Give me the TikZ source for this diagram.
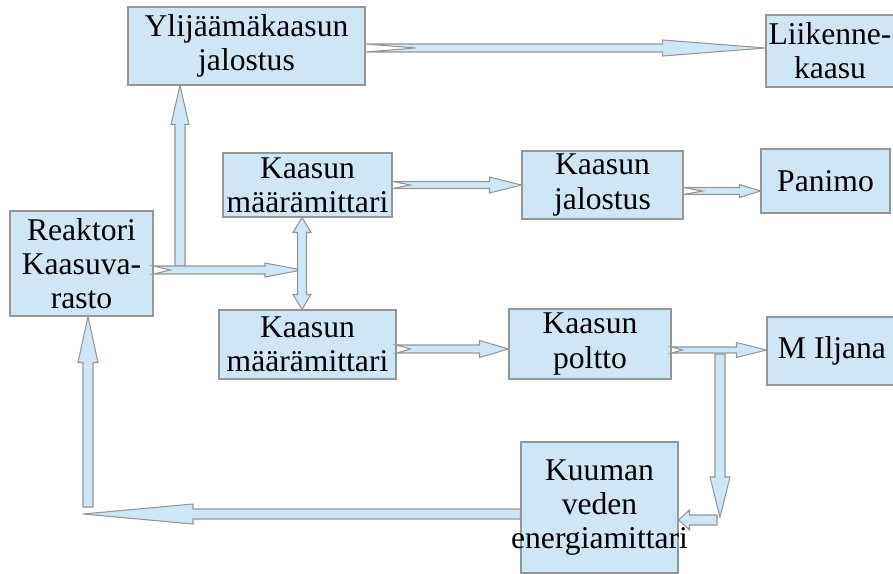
\documentclass[tikz,border=0pt]{standalone}
\usepackage{fontspec}
\setmainfont{Liberation Serif}
\usepackage{xcolor}
\usetikzlibrary{calc}

\definecolor{boxblue}{RGB}{207,231,245}
\definecolor{edgegray}{RGB}{150,150,150}

% block arrow: [notch] {tail} {tip} {shaft half width} {head length} {head half width}, in px
\newcommand{\blockarrow}[6][0]{%
  \coordinate (ba) at #2;
  \coordinate (bb) at #3;
  \coordinate (bh) at ($(bb)!#5*0.02cm!(ba)$);
  \draw[flow] ($(ba)!#4*0.02cm!90:(bb)$) -- ($(bh)!#4*0.02cm!90:(bb)$)
    -- ($(bh)!#6*0.02cm!90:(bb)$) -- (bb) -- ($(bh)!#6*0.02cm!-90:(bb)$)
    -- ($(bh)!#4*0.02cm!-90:(bb)$) -- ($(ba)!#4*0.02cm!-90:(bb)$)
    -- ($(ba)!#1*0.02cm!(bb)$) -- cycle;
}
% two-headed block arrow: {end} {end} {shaft half width} {head length} {head half width}
\newcommand{\twinarrow}[5]{%
  \coordinate (ta) at #1;
  \coordinate (tb) at #2;
  \coordinate (tha) at ($(ta)!#4*0.02cm!(tb)$);
  \coordinate (thb) at ($(tb)!#4*0.02cm!(ta)$);
  \draw[flow] (ta) -- ($(tha)!#5*0.02cm!90:(tb)$) -- ($(tha)!#3*0.02cm!90:(tb)$)
    -- ($(thb)!#3*0.02cm!-90:(ta)$) -- ($(thb)!#5*0.02cm!-90:(ta)$) -- (tb)
    -- ($(thb)!#5*0.02cm!90:(ta)$) -- ($(thb)!#3*0.02cm!90:(ta)$)
    -- ($(tha)!#3*0.02cm!-90:(tb)$) -- ($(tha)!#5*0.02cm!-90:(tb)$) -- cycle;
}

\begin{document}
\begin{tikzpicture}[x=0.02cm, y=-0.02cm,
    stage/.style={draw=edgegray, fill=boxblue, line width=0.6pt, align=center,
      inner sep=0pt, font=\fontsize{18}{19.5}\selectfont},
    flow/.style={draw=edgegray, fill=boxblue, line width=0.6pt, line join=miter}]
    \useasboundingbox (0,0) rectangle (893,574);

    % Boxes
    \node[stage, minimum width=4.74cm, minimum height=1.56cm] (ylij) at (246.5,46) {Ylijäämäkaasun\\jalostus};
    \node[stage, minimum width=2.56cm, minimum height=1.44cm] (liik) at (830,51) {Liikenne-\\kaasu};
    \node[stage, minimum width=3.38cm, minimum height=1.28cm] (mm1) at (307.5,185) {Kaasun\\määrämittari};
    \node[stage, minimum width=3.22cm, minimum height=1.36cm] (kjal) at (602.5,185) {Kaasun\\jalostus};
    \node[stage, minimum width=2.58cm, minimum height=1.28cm] (panimo) at (825.5,181) {Panimo};
    \node[stage, minimum width=2.86cm, minimum height=2.10cm] (reak) at (81.5,263.5) {Reaktori\\Kaasuva-\\rasto};
    \node[stage, minimum width=3.54cm, minimum height=1.38cm] (mm2) at (307.5,344.5) {Kaasun\\määrämittari};
    \node[stage, minimum width=3.24cm, minimum height=1.40cm] (poltto) at (590,344) {Kaasun\\poltto};
    \node[stage, minimum width=2.60cm, minimum height=1.36cm] (iljana) at (832,351) {M Iljana};
    \node[stage, minimum width=3.14cm, minimum height=2.62cm] (kuum) at (599.5,507.5) {Kuuman\\veden\\\makebox[0pt]{energiamittari}};

    % Free ends
    \coordinate (junc) at (302,270);
    \coordinate (split) at (180,266);
    \coordinate (ya) at ($(ylij.east)+(0,2)$);
    \coordinate (kf) at ($(kjal.east)+(0,6)$);
    \coordinate (mg) at ($(mm2.east)+(0,4.5)$);
    \coordinate (ph) at ($(poltto.east)+(0,6)$);
    \coordinate (drop) at (720,354);
    \coordinate (bend) at (720,517);
    \coordinate (back) at (717,520);
    \coordinate (corner) at (83,514);
    \coordinate (rise) at (88,507);

    % Arrows
    \blockarrow{(split)}{(split |- ylij.south)}{5}{39}{9}
    \blockarrow[17]{(reak.east |- junc)}{(junc)}{4}{37}{7}
    \twinarrow{(junc |- mm1.south)}{(junc |- mm2.north)}{4.5}{15}{9}
    \blockarrow[50]{(ya)}{(ya -| liik.west)}{4}{103}{8}
    \blockarrow[18]{(mm1.east)}{(mm1.east -| kjal.west)}{3.5}{32}{8}
    \blockarrow[19]{(kf)}{(kf -| panimo.west)}{3.5}{21}{6.5}
    \blockarrow[14]{(mg)}{(mg -| poltto.west)}{4}{29}{8.5}
    \blockarrow[11]{(ph)}{(ph -| iljana.west)}{3}{30}{7.5}
    \blockarrow{(drop)}{(bend)}{5}{40}{10}
    \blockarrow{(back)}{(back -| kuum.east)}{5}{11}{10}
    \blockarrow{(kuum.west |- corner)}{(corner)}{5}{110}{10}
    \blockarrow{(rise)}{(rise |- reak.south)}{5}{46}{10}
\end{tikzpicture}
\end{document}
